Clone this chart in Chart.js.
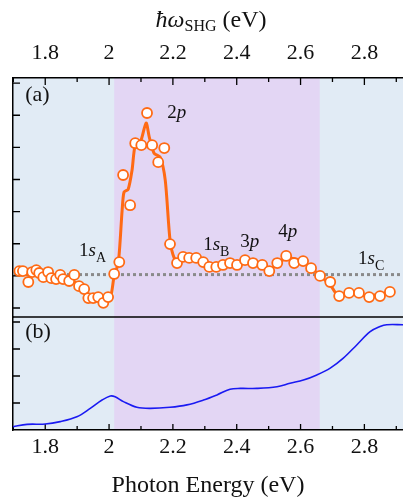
<!DOCTYPE html>
<html>
<head>
<meta charset="utf-8">
<script src="https://cdn.jsdelivr.net/npm/chart.js@4"></script>
<style>
html, body { margin: 0; padding: 0; background: #fff; overflow: hidden; }
</style>
</head>
<body>
<canvas id="shgChart" width="403" height="504"></canvas>
<script>
// (a) SHG intensity, measured points (arb. units)
const shgEnergy = [1.719, 1.730, 1.747, 1.759, 1.772, 1.781, 1.794, 1.809, 1.819, 1.834,
    1.847, 1.856, 1.875, 1.891, 1.906, 1.922, 1.935, 1.950, 1.966, 1.982,
    1.997, 2.016, 2.032, 2.044, 2.066, 2.082, 2.101, 2.119, 2.135, 2.154,
    2.173, 2.191, 2.213, 2.232, 2.251, 2.273, 2.295, 2.314, 2.336, 2.357,
    2.379, 2.401, 2.426, 2.451, 2.480, 2.502, 2.527, 2.555, 2.580, 2.608,
    2.633, 2.661, 2.693, 2.721, 2.752, 2.783, 2.815, 2.849, 2.880];
const shgSignal = [1.15, 1.15, 0.81, 1.12, 1.18, 1.09, 0.96, 1.12, 0.93, 0.90,
    1.03, 0.90, 0.84, 1.03, 0.68, 0.59, 0.31, 0.31, 0.34, 0.16,
    0.34, 1.06, 1.43, 4.14, 3.20, 5.13, 5.07, 6.07, 5.07, 4.54,
    4.98, 1.99, 1.40, 1.59, 1.56, 1.56, 1.43, 1.28, 1.28, 1.34,
    1.40, 1.34, 1.49, 1.40, 1.34, 1.15, 1.40, 1.62, 1.40, 1.46,
    1.24, 1.00, 0.81, 0.37, 0.47, 0.47, 0.34, 0.37, 0.50];

// (a) smoothed guide line
const fitEnergy = [1.719, 1.747, 1.772, 1.794, 1.819, 1.847, 1.875, 1.906, 1.935, 1.966,
    1.990, 2.005, 2.016, 2.029, 2.041, 2.047, 2.060, 2.072, 2.082, 2.098,
    2.116, 2.126, 2.141, 2.160, 2.176, 2.191, 2.204, 2.217, 2.232, 2.273,
    2.314, 2.357, 2.401, 2.451, 2.502, 2.555, 2.608, 2.661, 2.693, 2.715,
    2.752, 2.815, 2.880];
const fitSignal = [1.15, 1.05, 1.12, 1.02, 0.98, 1.00, 0.92, 0.70, 0.35, 0.30,
    0.22, 0.35, 1.00, 1.40, 3.05, 3.61, 3.70, 4.29, 5.07, 5.16,
    5.76, 5.32, 4.82, 4.70, 3.98, 2.12, 1.56, 1.49, 1.59, 1.54,
    1.30, 1.32, 1.36, 1.40, 1.20, 1.55, 1.45, 1.00, 0.72, 0.42,
    0.45, 0.38, 0.50];

// (b) absorption
const absEnergy = [1.699, 1.743, 1.800, 1.847, 1.899, 1.941, 1.978, 2.004, 2.019, 2.045,
    2.087, 2.129, 2.191, 2.244, 2.296, 2.338, 2.379, 2.411, 2.463, 2.526,
    2.567, 2.609, 2.651, 2.693, 2.734, 2.776, 2.818, 2.849, 2.870, 2.921];
const absSignal = [0.12, 0.21, 0.22, 0.31, 0.49, 0.80, 1.11, 1.26, 1.23, 1.05,
    0.84, 0.80, 0.84, 0.93, 1.11, 1.30, 1.51, 1.54, 1.54, 1.60,
    1.73, 1.85, 2.04, 2.29, 2.66, 3.15, 3.64, 3.83, 3.90, 3.90];

const xTicks = [1.8, 2.0, 2.2, 2.4, 2.6, 2.8];
const xMinorTicks = [1.7, 1.9, 2.1, 2.3, 2.5, 2.7, 2.9];
const shgTicks = [0, 1, 2, 3, 4, 5, 6, 7];
const absTicks = [1, 2, 3, 4];
const bandEdges = [2.016, 2.66];
const shgBaseline = 1.04;

const serif = '"Liberation Serif", "Times New Roman", serif';
const orange = '#ff6a14';

function toPoints(xs, ys) {
    return xs.map((v, i) => ({ x: v, y: ys[i] }));
}

function drawParts(ctx, x, y, parts, align) {
    let w = 0;
    parts.forEach(p => {
        ctx.font = (p.italic ? 'italic ' : '') + p.size + 'px ' + serif;
        p.w = ctx.measureText(p.t).width;
        w += p.w;
    });
    let cx = align === 'center' ? x - w / 2 : x;
    ctx.textBaseline = 'alphabetic';
    ctx.textAlign = 'left';
    ctx.fillStyle = '#111';
    parts.forEach(p => {
        ctx.font = (p.italic ? 'italic ' : '') + p.size + 'px ' + serif;
        ctx.fillText(p.t, cx, y + (p.dy || 0));
        cx += p.w;
    });
}

const decor = {
    id: 'decor',
    beforeDraw(chart) {
        const { ctx, chartArea: a, scales: { x } } = chart;
        const e0 = x.getPixelForValue(bandEdges[0]);
        const e1 = x.getPixelForValue(bandEdges[1]);
        ctx.save();
        ctx.fillStyle = '#e1ebf5';
        ctx.fillRect(a.left, a.top, a.width, a.height);
        ctx.fillStyle = '#e3d6f4';
        ctx.fillRect(e0, a.top, e1 - e0, a.height);
        ctx.restore();
    },
    beforeDatasetsDraw(chart) {
        const { ctx, chartArea: a, scales: { x, yA, yB } } = chart;
        ctx.save();
        // dotted reference level in (a)
        const yb = yA.getPixelForValue(shgBaseline);
        ctx.strokeStyle = '#8a8a8a';
        ctx.lineWidth = 3;
        ctx.setLineDash([3, 3]);
        ctx.beginPath();
        ctx.moveTo(a.left, yb);
        ctx.lineTo(a.right, yb);
        ctx.stroke();
        ctx.setLineDash([]);
        // divider between panels
        ctx.strokeStyle = '#000';
        ctx.lineWidth = 1.5;
        ctx.beginPath();
        ctx.moveTo(a.left, yB.top);
        ctx.lineTo(a.right, yB.top);
        ctx.stroke();
        // inward ticks
        ctx.lineWidth = 1.3;
        ctx.beginPath();
        shgTicks.forEach(v => {
            const p = yA.getPixelForValue(v);
            ctx.moveTo(a.left, p); ctx.lineTo(a.left + 7, p);
        });
        absTicks.forEach(v => {
            const p = yB.getPixelForValue(v);
            ctx.moveTo(a.left, p); ctx.lineTo(a.left + 7, p);
        });
        xTicks.forEach(v => {
            const p = x.getPixelForValue(v);
            ctx.moveTo(p, a.top); ctx.lineTo(p, a.top + 7);
            ctx.moveTo(p, a.bottom); ctx.lineTo(p, a.bottom - 6);
        });
        xMinorTicks.forEach(v => {
            const p = x.getPixelForValue(v);
            ctx.moveTo(p, a.top); ctx.lineTo(p, a.top + 4);
            ctx.moveTo(p, a.bottom); ctx.lineTo(p, a.bottom - 4);
        });
        ctx.stroke();
        ctx.restore();
    },
    afterDraw(chart) {
        const { ctx, chartArea: a, scales: { x, yA, yB } } = chart;
        ctx.save();
        const X = v => x.getPixelForValue(v);
        drawParts(ctx, X(1.737), yA.getPixelForValue(6.44), [{ t: '(a)', size: 22 }]);
        drawParts(ctx, X(1.737), yB.getPixelForValue(3.41), [{ t: '(b)', size: 22 }]);
        drawParts(ctx, X(2.182), yA.getPixelForValue(5.91), [{ t: '2', size: 19 }, { t: 'p', size: 19, italic: true }]);
        drawParts(ctx, X(1.906), yA.getPixelForValue(1.62), [{ t: '1', size: 19 }, { t: 's', size: 19, italic: true }, { t: 'A', size: 14, dy: 6 }]);
        drawParts(ctx, X(2.295), yA.getPixelForValue(1.80), [{ t: '1', size: 19 }, { t: 's', size: 19, italic: true }, { t: 'B', size: 14, dy: 6 }]);
        drawParts(ctx, X(2.411), yA.getPixelForValue(1.90), [{ t: '3', size: 19 }, { t: 'p', size: 19, italic: true }]);
        drawParts(ctx, X(2.530), yA.getPixelForValue(2.21), [{ t: '4', size: 19 }, { t: 'p', size: 19, italic: true }]);
        drawParts(ctx, X(2.780), yA.getPixelForValue(1.37), [{ t: '1', size: 19 }, { t: 's', size: 19, italic: true }, { t: 'C', size: 14, dy: 6 }]);
        // top axis title
        drawParts(ctx, (a.left + a.right) / 2 + 3, 27, [
            { t: 'ħω', size: 24, italic: true },
            { t: 'SHG', size: 16, dy: 4 },
            { t: ' (eV)', size: 24 }
        ], 'center');
        ctx.restore();
    }
};

const tickLabel = v => String(+Number(v).toFixed(1));

const ctx = document.getElementById('shgChart').getContext('2d');
const shgChart = new Chart(ctx, {
    type: 'line',
    data: {
        datasets: [
            {
                label: 'SHG',
                data: toPoints(shgEnergy, shgSignal),
                yAxisID: 'yA',
                showLine: false,
                pointRadius: 5,
                pointBorderWidth: 1.8,
                pointBackgroundColor: '#fff',
                pointBorderColor: orange
            },
            {
                label: 'SHG guide',
                data: toPoints(fitEnergy, fitSignal),
                yAxisID: 'yA',
                borderColor: orange,
                borderWidth: 3,
                pointRadius: 0,
                tension: 0.25
            },
            {
                label: 'Absorption',
                data: toPoints(absEnergy, absSignal),
                yAxisID: 'yB',
                borderColor: '#1a1af2',
                borderWidth: 1.6,
                pointRadius: 0,
                tension: 0.35
            }
        ]
    },
    options: {
        responsive: false,
        animation: false,
        devicePixelRatio: 1,
        events: [],
        layout: { padding: 0, autoPadding: false },
        plugins: { legend: { display: false }, tooltip: { enabled: false } },
        scales: {
            x: {
                type: 'linear',
                position: 'bottom',
                min: 1.699,
                max: 2.921,
                afterBuildTicks: s => { s.ticks = xTicks.map(v => ({ value: v })); },
                afterFit: s => { s.height = 74; },
                grid: { display: false, drawTicks: false },
                border: { display: true, color: '#000', width: 1.5 },
                ticks: {
                    color: '#111', padding: 4, maxRotation: 0, autoSkip: false,
                    font: { family: serif, size: 22 },
                    callback: tickLabel
                },
                title: {
                    display: true, text: 'Photon Energy (eV)', color: '#111',
                    font: { family: serif, size: 24 },
                    padding: { top: 0, bottom: 4 }
                }
            },
            x2: {
                type: 'linear',
                position: 'top',
                min: 1.699,
                max: 2.921,
                afterBuildTicks: s => { s.ticks = xTicks.map(v => ({ value: v })); },
                afterFit: s => { s.height = 78; },
                grid: { display: false, drawTicks: false },
                border: { display: true, color: '#000', width: 1.5 },
                ticks: {
                    color: '#111', padding: 12, maxRotation: 0, autoSkip: false,
                    font: { family: serif, size: 22 },
                    callback: tickLabel
                }
            },
            yB: {
                type: 'linear',
                position: 'left',
                stack: 'panels',
                stackWeight: 113,
                min: 0,
                max: 4.185,
                afterFit: s => { s.width = 13; },
                grid: { display: false, drawTicks: false },
                border: { display: true, color: '#000', width: 1.5 },
                ticks: { display: false }
            },
            yA: {
                type: 'linear',
                position: 'left',
                stack: 'panels',
                stackWeight: 239,
                min: -0.28,
                max: 7.16,
                afterFit: s => { s.width = 13; },
                grid: { display: false, drawTicks: false },
                border: { display: true, color: '#000', width: 1.5 },
                ticks: { display: false }
            }
        }
    },
    plugins: [decor]
});
</script>
</body>
</html>
